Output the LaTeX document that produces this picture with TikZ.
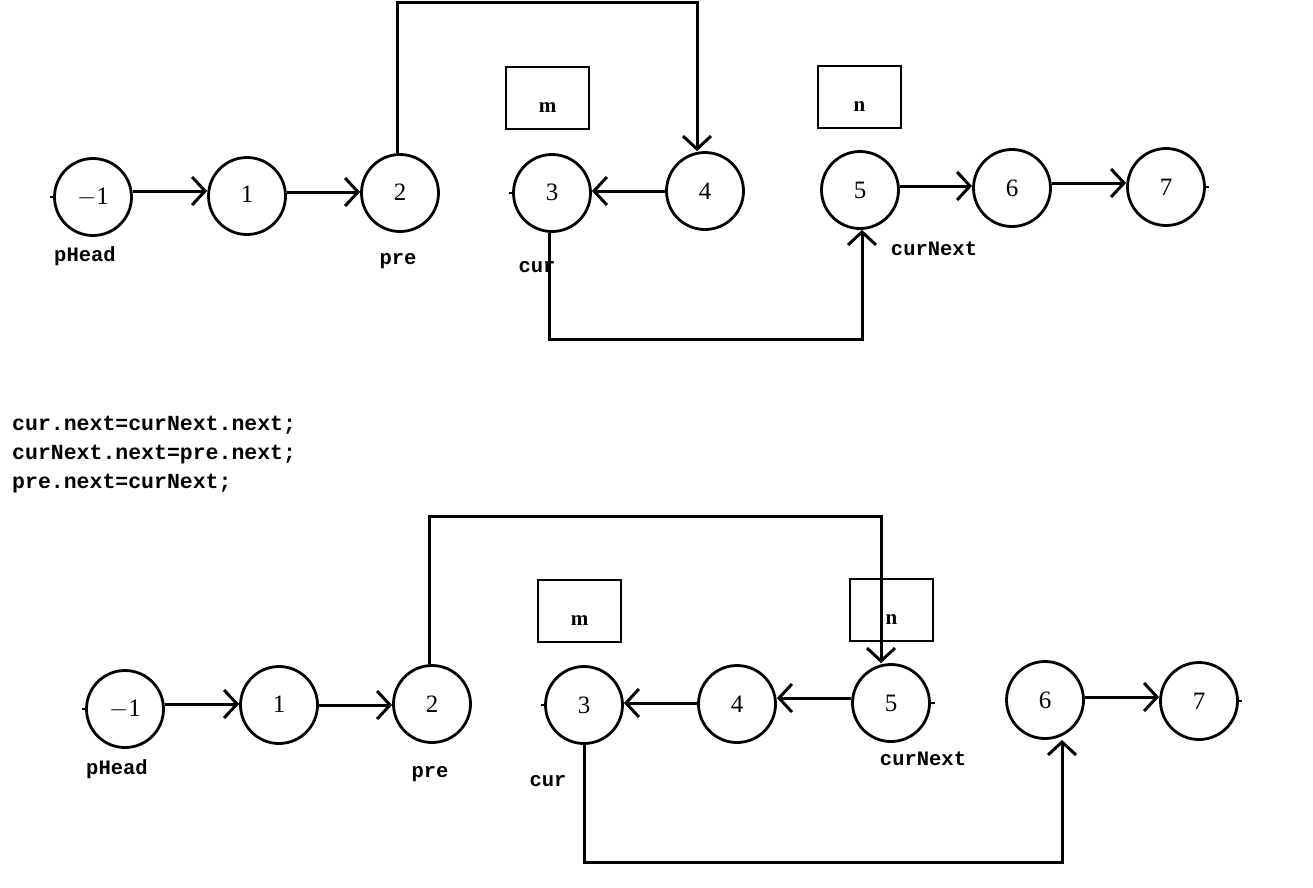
\documentclass[tikz,border=0pt]{standalone}
\usepackage{fontspec}
\setmainfont{Liberation Serif}
\newfontfamily\lblfont{Liberation Mono}
\usetikzlibrary{arrows.meta}
\tikzset{
  circ/.style={draw,circle,line width=2.8pt,minimum size=77pt,inner sep=0pt,font=\fontsize{25}{25}\selectfont},
  boxnode/.style={draw,rectangle,line width=2.8pt,minimum width=83pt,minimum height=62pt,inner sep=0pt,font=\bfseries\fontsize{21}{21}\selectfont},
  arr/.style={line width=3pt,-{Straight Barb[length=13pt,width=28pt,line width=3pt]}},
  lbl/.style={font=\lblfont\bfseries\fontsize{20.5}{20.5}\selectfont,inner sep=0pt},
  codetxt/.style={font=\lblfont\bfseries\fontsize{21.5}{29}\selectfont,inner sep=0pt,anchor=west,align=left},
  tick/.style={line width=2.6pt}
}
\newcommand{\boxlbl}[1]{\raisebox{-14pt}[0pt][0pt]{#1}}
\begin{document}
\begin{tikzpicture}[x=1pt,y=-1pt]
\useasboundingbox[fill=white] (0,0) rectangle (1313,887);
% ---------- top diagram ----------
\node[circ] (a0) at (93,197) {\raisebox{-3pt}{$-$1}};
\node[circ] (a1) at (247,196) {\raisebox{3pt}{1}};
\node[circ] (a2) at (400,193) {\raisebox{2pt}{2}};
\node[circ] (a3) at (552,193) {\raisebox{2pt}{3}};
\node[circ] (a4) at (705,191) {4};
\node[circ] (a5) at (860,190) {5};
\node[circ] (a6) at (1012,188) {6};
\node[circ] (a7) at (1166,187) {7};
\node[boxnode] (am) at (547.5,98) {\boxlbl{m}};
\node[boxnode] (an) at (859.5,97) {\boxlbl{n}};
\node[lbl] (apHead) at (85,256) {pHead};
\node[lbl] (apre) at (398,261) {pre};
\node[lbl] (acur) at (537,267) {cur};
\node[lbl] (acurNext) at (934,249) {curNext};
\draw[arr] ([yshift=6pt]a0.east) -- ([yshift=6pt]a0.east -| a1.west);
\draw[arr] ([yshift=4pt]a1.east) -- ([yshift=4pt]a1.east -| a2.west);
\draw[arr] (a4.west) -- (a4.west -| a3.east);
\draw[arr] ([yshift=4pt]a5.east) -- ([yshift=4pt]a5.east -| a6.west);
\draw[arr] ([yshift=5pt]a6.east) -- ([yshift=5pt]a6.east -| a7.west);
\coordinate (atop) at (0,2);
\coordinate (abot) at (0,339);
\coordinate (a2out) at ([xshift=-3pt]a2.north);
\coordinate (a4in) at ([xshift=-8pt]a4.north);
\coordinate (a3out) at ([xshift=-3pt]a3.south);
\coordinate (a5in) at ([xshift=2pt]a5.south);
\draw[arr] (a2out) -- (a2out |- atop) -| (a4in);
\draw[arr] (a3out) -- (a3out |- abot) -| (a5in);
% ---------- code ----------
\node[codetxt] (code) at (12,455) {cur.next=curNext.next;\\curNext.next=pre.next;\\pre.next=curNext;};
% ---------- bottom diagram ----------
\node[circ] (b0) at (125,709) {\raisebox{-2pt}{$-$1}};
\node[circ] (b1) at (279,705) {\raisebox{1pt}{1}};
\node[circ] (b2) at (432,704) {2};
\node[circ] (b3) at (584,705) {3};
\node[circ] (b4) at (737,704) {4};
\node[circ] (b5) at (891,703) {5};
\node[circ] (b6) at (1045,700) {\raisebox{-3pt}{6}};
\node[circ] (b7) at (1199,701) {\raisebox{-2pt}{7}};
\node[boxnode] (bm) at (579.5,611) {\boxlbl{m}};
\node[boxnode] (bn) at (891.5,610) {\boxlbl{n}};
\node[lbl] (bpHead) at (117,769) {pHead};
\node[lbl] (bpre) at (430,774) {pre};
\node[lbl] (bcur) at (548,781) {cur};
\node[lbl] (bcurNext) at (923,759) {curNext};
\draw[arr] ([yshift=5pt]b0.east) -- ([yshift=5pt]b0.east -| b1.west);
\draw[arr] (b1.east) -- (b1.east -| b2.west);
\draw[arr] ([yshift=1pt]b4.west) -- ([yshift=1pt]b4.west -| b3.east);
\draw[arr] ([yshift=5pt]b5.west) -- ([yshift=5pt]b5.west -| b4.east);
\draw[arr] ([yshift=3pt]b6.east) -- ([yshift=3pt]b6.east -| b7.west);
\coordinate (btop) at (0,516);
\coordinate (bbot) at (0,862);
\coordinate (b2out) at ([xshift=-3pt]b2.north);
\coordinate (b5in) at ([xshift=-10pt]b5.north);
\coordinate (b6in) at ([xshift=17pt]b6.south);
\draw[arr] (b2out) -- (b2out |- btop) -| (b5in);
\draw[arr] (b3.south) -- (b3.south |- bbot) -| (b6in);
% ---------- small stubs ----------
\draw[tick] (a0.west) -- ++(-3,0);
\draw[tick] (a3.west) -- ++(-3,0);
\draw[tick] (a7.east) -- ++(3,0);
\draw[tick] (b0.west) -- ++(-3,0);
\draw[tick] (b3.west) -- ++(-3,0);
\draw[tick] (b5.east) -- ++(4,0);
\draw[tick] (b7.east) -- ++(3,0);
\end{tikzpicture}
\end{document}
